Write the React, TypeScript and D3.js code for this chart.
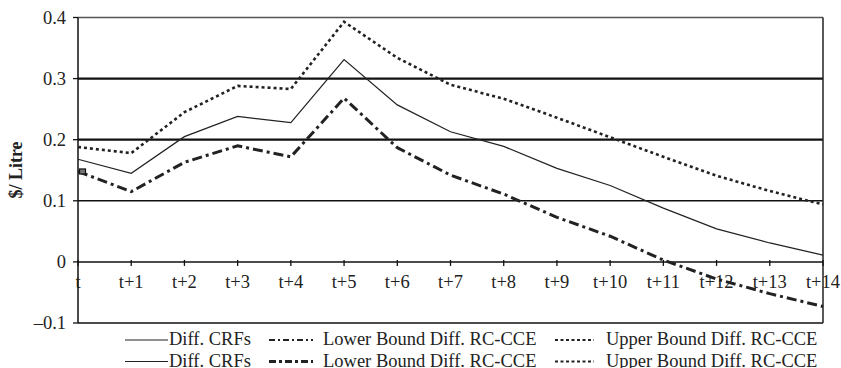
import React from "react";
import * as d3 from "d3";

const categories = ["t", "t+1", "t+2", "t+3", "t+4", "t+5", "t+6", "t+7", "t+8", "t+9", "t+10", "t+11", "t+12", "t+13", "t+14"];
const diffCRFs = [0.168, 0.145, 0.205, 0.238, 0.228, 0.331, 0.257, 0.213, 0.189, 0.153, 0.125, 0.088, 0.054, 0.031, 0.011];
const lowerBound = [0.148, 0.115, 0.163, 0.19, 0.172, 0.268, 0.187, 0.142, 0.111, 0.073, 0.042, 0.003, -0.028, -0.052, -0.073];
const upperBound = [0.188, 0.178, 0.245, 0.288, 0.283, 0.393, 0.334, 0.29, 0.267, 0.236, 0.204, 0.172, 0.141, 0.116, 0.094];
const yTicks = [-0.1, 0, 0.1, 0.2, 0.3, 0.4];
const yTickLabels = ["\u20130.1", "0", "0.1", "0.2", "0.3", "0.4"];
const legendLabels = ["Diff. CRFs", "Lower Bound Diff. RC-CCE", "Upper Bound Diff. RC-CCE"];

const W = 841;
const H = 368;
const left = 78;
const right = 823;
const top = 17.5;
const bottom = 323;
const font = "'Liberation Serif', 'Times New Roman', serif";

export default function App() {
  const x = d3.scalePoint<string>().domain(categories).range([left, right]);
  const y = d3.scaleLinear().domain([-0.1, 0.4]).range([bottom, top]);
  const line = d3
    .line<number>()
    .x((_, i) => x(categories[i]) as number)
    .y((d) => y(d));

  const lowerDash = "10,4,3,4";
  const upperDash = "3,3";

  const legendRow = (yy: number, row: number) => (
    <g key={"leg" + row}>
      <line x1={125} x2={168} y1={yy - 5} y2={yy - 5} stroke="#222" strokeWidth={1.2} />
      <text x={169} y={yy} fontSize={18.5} fontFamily={font} fill="#222">{legendLabels[0]}</text>
      <line x1={269} x2={313} y1={yy - 5} y2={yy - 5} stroke="#222" strokeWidth={row === 0 ? 2.2 : 3} strokeDasharray={row === 0 ? "6,3,2,3" : "7,3,3,3"} />
      <text x={323} y={yy} fontSize={18.5} fontFamily={font} fill="#222">{legendLabels[1]}</text>
      <line x1={555} x2={594} y1={yy - 5} y2={yy - 5} stroke="#222" strokeWidth={2.2} strokeDasharray="3,2.5" />
      <text x={606} y={yy} fontSize={18.5} fontFamily={font} fill="#222">{legendLabels[2]}</text>
    </g>
  );

  return (
    <svg width={W} height={H} style={{ position: "absolute", left: 0, top: 0, display: "block", background: "#fff" }}>
      <rect x={0} y={0} width={W} height={H} fill="#fff" />
      {/* gridlines */}
      {yTicks.map((t, i) => {
        const isTop = t === 0.4;
        const isZero = t === 0;
        const isBottom = t === -0.1;
        return (
          <line
            key={"g" + i}
            x1={left}
            x2={right}
            y1={y(t)}
            y2={y(t)}
            stroke={isTop ? "#555" : "#111"}
            strokeWidth={isTop ? 1.3 : isZero ? 1.5 : isBottom ? 1.6 : t === 0.1 ? 1.6 : 2.2}
          />
        );
      })}
      {/* right border */}
      <line x1={right} x2={right} y1={top} y2={bottom} stroke="#222" strokeWidth={1.5} />
      {/* left axis */}
      <line x1={left} x2={left} y1={top} y2={bottom} stroke="#111" strokeWidth={1.5} />
      {yTicks.map((t, i) => (
        <g key={"yt" + i}>
          <line x1={left - 5} x2={left} y1={y(t)} y2={y(t)} stroke="#111" strokeWidth={1.3} />
          <text x={66} y={y(t)} dy="0.35em" textAnchor="end" fontSize={18.5} fontFamily={font} fill="#222">
            {yTickLabels[i]}
          </text>
        </g>
      ))}
      {/* x ticks on zero line */}
      {categories.map((c, i) => (
        <g key={"xt" + i}>
          <line x1={x(c)} x2={x(c)} y1={y(0) - 2} y2={y(0) + 4} stroke="#111" strokeWidth={1.3} />
          <text x={x(c)} y={288} textAnchor="middle" fontSize={18.5} fontFamily={font} fill="#222">
            {c}
          </text>
        </g>
      ))}
      {/* y label */}
      <text
        transform={`translate(22,170) rotate(-90)`}
        textAnchor="middle"
        fontSize={18}
        fontWeight="bold"
        fontFamily={font}
        fill="#222"
      >
        $/ Litre
      </text>
      {/* series */}
      <path d={line(upperBound) || ""} fill="none" stroke="#222" strokeWidth={2.6} strokeDasharray={upperDash} />
      <path d={line(diffCRFs) || ""} fill="none" stroke="#222" strokeWidth={1.2} />
      <path d={line(lowerBound) || ""} fill="none" stroke="#222" strokeWidth={3} strokeDasharray={lowerDash} />
      <rect x={(x(categories[0]) as number) + 1.5} y={y(lowerBound[0]) - 2.5} width={6} height={5} fill="#777" stroke="#111" strokeWidth={1.2} />
      {/* legend */}
      {legendRow(345, 0)}
      {legendRow(366.5, 1)}
    </svg>
  );
}
